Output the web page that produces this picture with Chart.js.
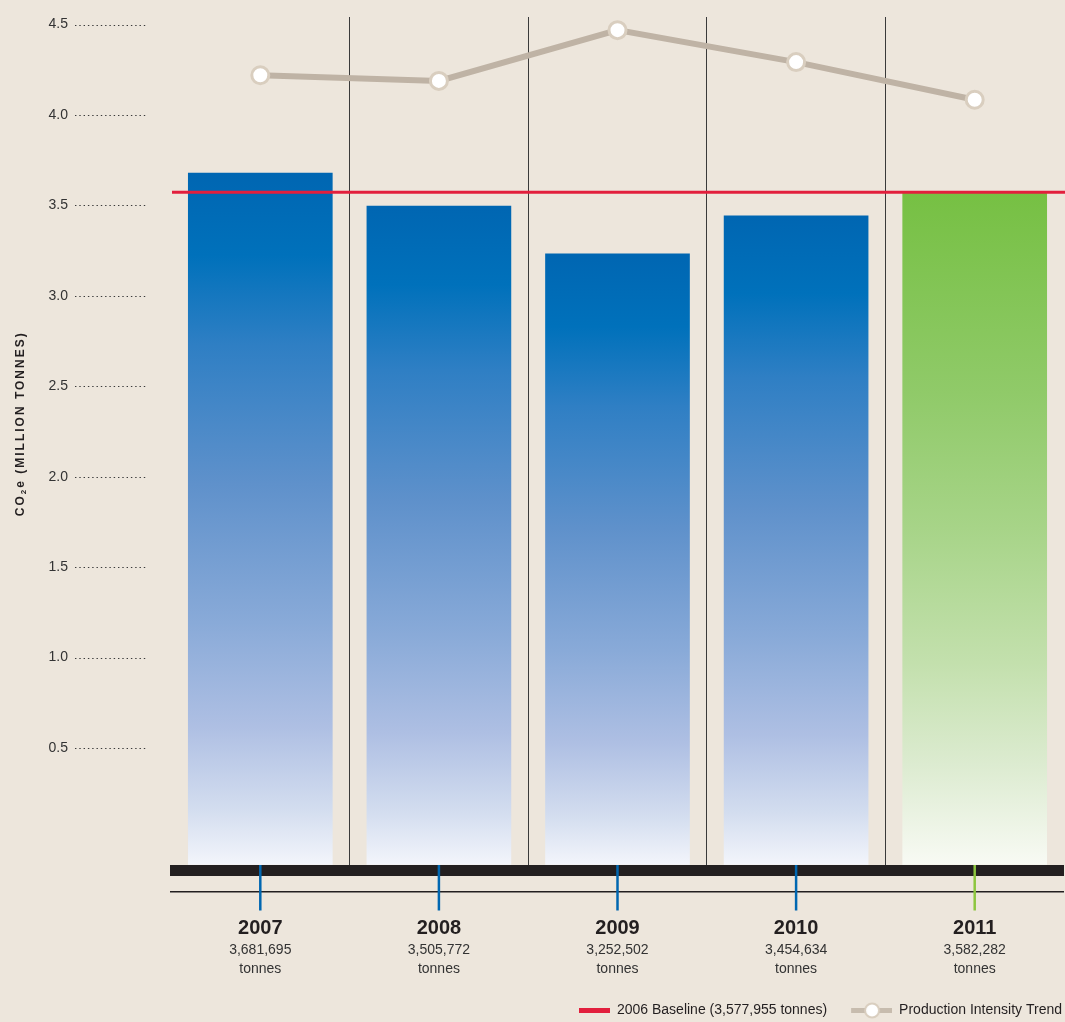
<!DOCTYPE html>
<html>
<head>
<meta charset="utf-8">
<script src="https://cdn.jsdelivr.net/npm/chart.js@4.4.1/dist/chart.umd.min.js"></script>
<style>
  html, body { margin: 0; padding: 0; background: #ede6dc; }
  #wrap { width: 1065px; height: 1022px; position: relative; }
</style>
</head>
<body>
<div id="wrap"><canvas id="chart"></canvas></div>
<script>
const years = ['2007', '2008', '2009', '2010', '2011'];
const tonnes = [3681695, 3505772, 3252502, 3454634, 3582282];
const trend = [4.20, 4.17, 4.44, 4.27, 4.07];
const baseline = 3577955;
const yTicks = [0.5, 1.0, 1.5, 2.0, 2.5, 3.0, 3.5, 4.0, 4.5];
const tickColors = ['#0067b1', '#0067b1', '#0067b1', '#0067b1', '#8dc63f'];

const narrow = "'Liberation Sans Narrow', 'Liberation Sans', sans-serif";
Chart.defaults.font.family = narrow;

const blueStops = [[0, '#0066b2'], [0.12, '#0071bb'], [0.25, '#2f7fc4'], [0.45, '#5f91cb'],
                   [0.65, '#89aad8'], [0.8, '#aebfe3'], [0.92, '#d3ddef'], [1, '#f3f5fb']];
const greenStops = [[0, '#76c043'], [0.3, '#90ca69'], [0.5, '#a7d488'], [0.7, '#c3e0ad'],
                    [0.85, '#dcebd0'], [1, '#f8faf4']];

function barFill(c) {
  const chart = c.chart;
  if (!chart.chartArea) return '#0072bc';
  const yv = chart.scales.yv;
  const top = yv.getPixelForValue(tonnes[c.dataIndex] / 1e6);
  const bot = yv.getPixelForValue(0);
  const g = chart.ctx.createLinearGradient(0, top, 0, bot);
  const stops = c.dataIndex === years.length - 1 ? greenStops : blueStops;
  stops.forEach(s => g.addColorStop(s[0], s[1]));
  return g;
}

// legend swatches
function swatch(kind) {
  const cv = document.createElement('canvas');
  cv.width = 63; cv.height = 18;
  const g = cv.getContext('2d');
  if (kind === 'red') {
    g.fillStyle = '#e21f3d';
    g.fillRect(32, 7, 31, 5);
  } else {
    g.fillStyle = '#c7bcae';
    g.fillRect(22, 7, 41, 5);
    g.beginPath();
    g.arc(43, 9.5, 7, 0, Math.PI * 2);
    g.fillStyle = '#fff';
    g.fill();
    g.lineWidth = 2;
    g.strokeStyle = '#d9cebf';
    g.stroke();
  }
  return cv;
}

// keep the axes from reserving extra room for label overhang
function noPad(s) {
  s.paddingLeft = 0; s.paddingRight = 0; s.paddingTop = 0; s.paddingBottom = 0;
}

const decor = {
  id: 'decor',
  afterDraw(chart) {
    const ctx = chart.ctx, area = chart.chartArea;
    const x = chart.scales.x, y = chart.scales.y, yv = chart.scales.yv;
    ctx.save();

    // dotted leaders after the y labels
    ctx.strokeStyle = '#3a3a3a';
    ctx.lineWidth = 1.2;
    ctx.setLineDash([1.4, 2.9]);
    const x0 = y.right - y.options.ticks.padding + 7;
    y.ticks.forEach(t => {
      const py = Math.round(y.getPixelForValue(t.value)) + 0.5;
      ctx.beginPath();
      ctx.moveTo(x0, py);
      ctx.lineTo(area.left - 25, py);
      ctx.stroke();
    });
    ctx.setLineDash([]);

    // heavy axis bar and thin rule under it
    ctx.fillStyle = '#231f20';
    ctx.fillRect(area.left - 1, area.bottom - 5.5, area.right - area.left + 1, 11);
    ctx.fillRect(area.left - 1, Math.round(area.bottom + 20), area.right - area.left + 1, 1.5);

    // coloured tick marks
    ctx.lineWidth = 2.5;
    years.forEach((yr, i) => {
      const px = x.getPixelForValue(i);
      ctx.strokeStyle = tickColors[i];
      ctx.beginPath();
      ctx.moveTo(px, area.bottom - 5.5);
      ctx.lineTo(px, area.bottom + 40);
      ctx.stroke();
    });

    // 2006 baseline
    const by = yv.getPixelForValue(baseline / 1e6);
    ctx.strokeStyle = '#e21f3d';
    ctx.lineWidth = 3;
    ctx.beginPath();
    ctx.moveTo(area.left + 1, by);
    ctx.lineTo(chart.width, by);
    ctx.stroke();

    // y title
    ctx.translate(y.left + 21, (area.top + area.bottom) / 2 - 20);
    ctx.rotate(-Math.PI / 2);
    ctx.letterSpacing = '2px';
    ctx.fillStyle = '#231f20';
    ctx.textBaseline = 'middle';
    const big = 'bold 12px ' + narrow, small = 'bold 8px ' + narrow;
    const parts = [['CO', big, 0], ['2', small, 3], ['e (MILLION TONNES)', big, 0]];
    let w = 0;
    parts.forEach(p => { ctx.font = p[1]; p.push(ctx.measureText(p[0]).width); w += p[3]; });
    let tx = -w / 2;
    parts.forEach(p => { ctx.font = p[1]; ctx.fillText(p[0], tx, p[2]); tx += p[3]; });
    ctx.restore();
  }
};

new Chart(document.getElementById('chart'), {
  data: {
    labels: years,
    datasets: [
      {
        type: 'line',
        label: 'Production Intensity Trend',
        data: trend,
        yAxisID: 'yv',
        order: 0,
        borderColor: '#bfb3a5',
        borderWidth: 6,
        pointRadius: 8.5,
        pointBackgroundColor: '#ffffff',
        pointBorderColor: '#d9cebf',
        pointBorderWidth: 3,
        tension: 0
      },
      {
        type: 'bar',
        label: 'CO2e',
        data: tonnes.map(v => v / 1e6),
        yAxisID: 'yv',
        order: 1,
        backgroundColor: barFill,
        barPercentage: 0.81,
        categoryPercentage: 1
      }
    ]
  },
  options: {
    responsive: true,
    maintainAspectRatio: false,
    animation: false,
    layout: { autoPadding: false, padding: { top: 17, right: 1, bottom: -5, left: 0 } },
    scales: {
      x: {
        z: 1,
        weight: 0,
        offset: true,
        grid: {
          offset: true,
          drawTicks: false,
          color: c => (c.index === undefined || c.index === 0 || c.index >= years.length) ? 'rgba(0,0,0,0)' : '#3a3a3a',
          lineWidth: 1
        },
        border: { display: false },
        ticks: { font: { size: 20, weight: 'bold', lineHeight: 1.2 }, color: '#231f20', padding: 46 },
        afterFit: s => { noPad(s); s.height = 69; }
      },
      x2: {
        type: 'category',
        position: 'bottom',
        weight: 1,
        offset: true,
        grid: { display: false, drawTicks: false },
        border: { display: false },
        ticks: {
          font: { size: 14, lineHeight: 1.357 },
          color: '#333333',
          padding: 1,
          callback: (v, i) => [tonnes[i].toLocaleString('en-US'), 'tonnes']
        },
        afterFit: s => { noPad(s); s.height = 61.5; }
      },
      y: {
        position: 'left',
        min: -0.177,
        max: 4.542,
        grid: { display: false, drawTicks: false },
        border: { display: false },
        afterBuildTicks: s => { s.ticks = yTicks.map(v => ({ value: v })); },
        ticks: {
          font: { size: 14 },
          color: '#333333',
          padding: 103,
          callback: v => v.toFixed(1)
        },
        afterFit: s => { noPad(s); s.width = 171; }
      },
      yv: {
        display: false,
        min: -0.03,
        max: 4.51
      }
    },
    plugins: {
      tooltip: { enabled: false },
      legend: {
        position: 'bottom',
        align: 'end',
        onClick: null,
        labels: {
          usePointStyle: true,
          pointStyleWidth: 63,
          padding: 2,
          color: '#231f20',
          font: { size: 14 },
          generateLabels: () => [
            { text: '2006 Baseline (3,577,955 tonnes)', pointStyle: swatch('red'), fillStyle: '#e21f3d', strokeStyle: 'rgba(0,0,0,0)', lineWidth: 0, hidden: false, fontColor: '#231f20' },
            { text: 'Production Intensity Trend', pointStyle: swatch('gray'), fillStyle: '#c7bcae', strokeStyle: 'rgba(0,0,0,0)', lineWidth: 0, hidden: false, fontColor: '#231f20' }
          ]
        }
      }
    }
  },
  plugins: [decor]
});
</script>
</body>
</html>
